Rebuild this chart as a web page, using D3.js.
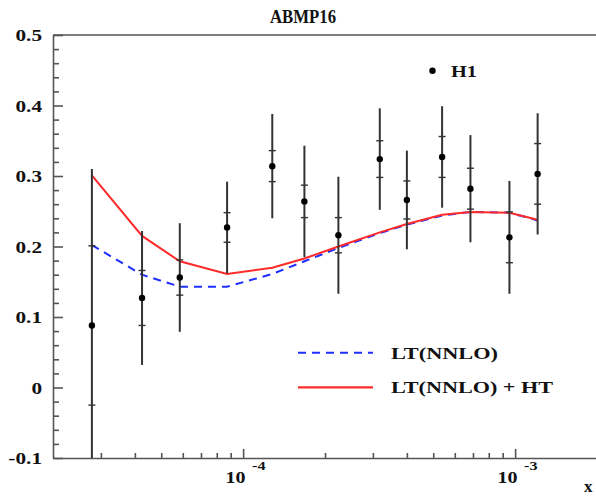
<!DOCTYPE html>
<html>
<head>
<meta charset="utf-8">
<script src="https://cdn.jsdelivr.net/npm/d3@7"></script>
<style>
body { margin: 0; background: #fff; }
text { font-family: "Liberation Serif", "DejaVu Serif", serif; font-weight: bold; fill: #111; }
</style>
</head>
<body>
<script>
// H1 data points
const xVals = [2.78e-5, 4.25e-5, 5.85e-5, 8.73e-5, 1.28e-4, 1.68e-4, 2.24e-4, 3.18e-4, 4.0e-4, 5.39e-4, 6.85e-4, 9.53e-4, 1.21e-3];
const yVals = [0.088, 0.127, 0.156, 0.227, 0.314, 0.264, 0.216, 0.324, 0.266, 0.327, 0.282, 0.213, 0.303];
const statErr = [0.113, 0.039, 0.025, 0.021, 0.022, 0.023, 0.025, 0.026, 0.027, 0.029, 0.029, 0.036, 0.043];
const totErr = [0.222, 0.095, 0.077, 0.065, 0.074, 0.079, 0.083, 0.072, 0.070, 0.072, 0.076, 0.080, 0.086];
// theory curves
const ltHT = [0.301, 0.215, 0.179, 0.161, 0.170, 0.183, 0.200, 0.220, 0.232, 0.245, 0.249, 0.248, 0.238];
const lt = [0.202, 0.160, 0.143, 0.143, 0.161, 0.179, 0.198, 0.219, 0.231, 0.244, 0.249, 0.248, 0.237];
// ticks
const yMajor = [-0.1, 0, 0.1, 0.2, 0.3, 0.4, 0.5];
const yLabels = ['-0.1', '0', '0.1', '0.2', '0.3', '0.4', '0.5'];
const yMinor = d3.range(-0.08, 0.5, 0.02).filter(v => Math.abs(Math.round(v * 10) - v * 10) > 1e-6);
const xMajor = [1e-4, 1e-3];
const xExp = ['-4', '-3'];
const xMinor = [3e-5, 4e-5, 5e-5, 6e-5, 7e-5, 8e-5, 9e-5, 2e-4, 3e-4, 4e-4, 5e-4, 6e-4, 7e-4, 8e-4, 9e-4];

const W = 596, H = 496;
const pL = 53, pT = 35, pB = 458, pR = 597;
const axisColor = '#555';

const svg = d3.select('body').append('svg')
    .attr('width', W).attr('height', H);

const x = d3.scaleLog().domain([2e-5, 2e-3]).range([pL, pR]);
const y = d3.scaleLinear().domain([-0.1, 0.5]).range([pB, pT]);

svg.append('defs').append('clipPath').attr('id', 'frame')
    .append('rect')
    .attr('x', pL).attr('y', pT)
    .attr('width', pR - pL).attr('height', pB - pT);

// title
svg.append('text')
    .attr('x', 270).attr('y', 23)
    .style('font-size', '19px')
    .attr('textLength', 66).attr('lengthAdjust', 'spacingAndGlyphs')
    .text('ABMP16');

// y axis
const yAxis = svg.append('g')
    .attr('transform', `translate(${pL},0)`)
    .call(d3.axisLeft(y).tickValues(yMajor)
        .tickFormat((d, i) => yLabels[i])
        .tickSizeInner(-10).tickSizeOuter(0).tickPadding(11));
yAxis.selectAll('text')
    .style('font-size', '17px')
    .attr('dy', '0.34em')
    .each(function () {
        const w = this.getComputedTextLength();
        d3.select(this).attr('textLength', w * 1.25).attr('lengthAdjust', 'spacingAndGlyphs');
    });
svg.append('g')
    .attr('transform', `translate(${pL},0)`)
    .call(d3.axisLeft(y).tickValues(yMinor).tickFormat('')
        .tickSizeInner(-6).tickSizeOuter(0))
    .select('.domain').remove();

// x axis
svg.append('g')
    .attr('transform', `translate(0,${pB})`)
    .call(d3.axisBottom(x).tickValues(xMajor).tickFormat('')
        .tickSizeInner(-9).tickSizeOuter(0));
svg.append('g')
    .attr('transform', `translate(0,${pB})`)
    .call(d3.axisBottom(x).tickValues(xMinor).tickFormat('')
        .tickSizeInner(-5).tickSizeOuter(0))
    .select('.domain').remove();

svg.selectAll('.domain, .tick line')
    .attr('stroke', axisColor).attr('stroke-width', 1.6);

// top frame line
svg.append('line')
    .attr('x1', pL).attr('x2', W).attr('y1', pT).attr('y2', pT)
    .attr('stroke', axisColor).attr('stroke-width', 1.6);

const xl = svg.append('g');
xMajor.forEach((v, i) => {
    xl.append('text')
        .attr('x', x(v) - 17.5).attr('y', 483)
        .style('font-size', '17px')
        .attr('textLength', 20).attr('lengthAdjust', 'spacingAndGlyphs')
        .text('10');
    xl.append('text')
        .attr('x', x(v) + 9).attr('y', 470)
        .style('font-size', '12px')
        .attr('textLength', 13.5).attr('lengthAdjust', 'spacingAndGlyphs')
        .text(xExp[i]);
});
svg.append('text')
    .attr('x', 584).attr('y', 492)
    .style('font-size', '17px')
    .text('x');

// data
const pts = xVals.map((v, i) => ({ x: v, y: yVals[i], s: statErr[i], t: totErr[i], a: ltHT[i], b: lt[i] }));
const plot = svg.append('g').attr('clip-path', 'url(#frame)');

plot.append('path')
    .datum(pts)
    .attr('fill', 'none')
    .attr('stroke', '#1f2fff')
    .attr('stroke-width', 2)
    .attr('stroke-dasharray', '8,6')
    .attr('d', d3.line().x(d => x(d.x)).y(d => y(d.b)));
plot.append('path')
    .datum(pts)
    .attr('fill', 'none')
    .attr('stroke', '#ff2a2a')
    .attr('stroke-width', 2)
    .attr('d', d3.line().x(d => x(d.x)).y(d => y(d.a)));

const bars = plot.selectAll('g.pt').data(pts).enter().append('g').attr('class', 'pt');
bars.append('line')
    .attr('x1', d => x(d.x)).attr('x2', d => x(d.x))
    .attr('y1', d => y(d.y - d.t)).attr('y2', d => y(d.y + d.t))
    .attr('stroke', '#333').attr('stroke-width', 2);
[-1, 1].forEach(k => {
    bars.append('line')
        .attr('x1', d => x(d.x) - 3.5).attr('x2', d => x(d.x) + 3.5)
        .attr('y1', d => y(d.y + k * d.s)).attr('y2', d => y(d.y + k * d.s))
        .attr('stroke', '#333').attr('stroke-width', 1.4);
});
bars.append('circle')
    .attr('cx', d => x(d.x)).attr('cy', d => y(d.y))
    .attr('r', 3.2).attr('fill', '#000');

// legends
svg.append('circle').attr('cx', 432.5).attr('cy', 70.7).attr('r', 3.2).attr('fill', '#000');
svg.append('text')
    .attr('x', 451).attr('y', 76.7)
    .style('font-size', '17px')
    .attr('textLength', 26).attr('lengthAdjust', 'spacingAndGlyphs')
    .text('H1');

svg.append('line')
    .attr('x1', 298).attr('x2', 373).attr('y1', 352.7).attr('y2', 352.7)
    .attr('stroke', '#1f2fff').attr('stroke-width', 2).attr('stroke-dasharray', '8,6');
svg.append('text')
    .attr('x', 391).attr('y', 358.5)
    .style('font-size', '17px')
    .attr('textLength', 107).attr('lengthAdjust', 'spacingAndGlyphs')
    .text('LT(NNLO)');
svg.append('line')
    .attr('x1', 298).attr('x2', 373).attr('y1', 387.3).attr('y2', 387.3)
    .attr('stroke', '#ff2a2a').attr('stroke-width', 2.2);
svg.append('text')
    .attr('x', 391).attr('y', 393)
    .style('font-size', '17px')
    .attr('textLength', 162).attr('lengthAdjust', 'spacingAndGlyphs')
    .text('LT(NNLO) + HT');
</script>
</body>
</html>
